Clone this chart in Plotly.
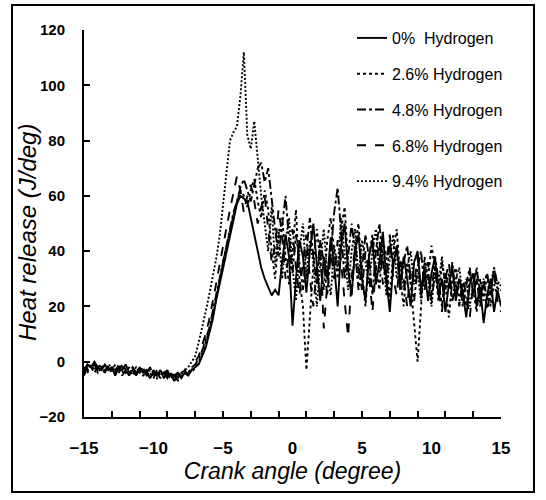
import plotly.graph_objects as go

# Crank-angle sampling grid (degrees), 0.25 deg resolution from -15 to 15
crank_angle = [round(-15 + 0.25 * i, 2) for i in range(121)]

# Heat release (J/deg); each row = one degree (x, x+.25, x+.5, x+.75)
h0 = [
    -4, -1, -2, 0,   -2, -3, -1, -3,   -2, -5, -2, -3,   -1, -4, -3, -5,
    -2, -4, -3, -6,  -4, -5, -3, -6,   -4, -5, -7, -4,   -6, -4, -5, -3,
    -2, -1, 2, 5,    10, 15, 22, 28,   34, 40, 46, 52,   57, 60, 59, 58,
    52, 46, 40, 34,  30, 27, 24, 26,   24, 36, 46, 38,   13, 30, 44, 38,
    25, 40, 50, 35,  22, 38, 30, 45,   35, 20, 42, 50,   33, 24, 40, 46,
    30, 22, 38, 44,  28, 36, 47, 30,   18, 35, 42, 28,   38, 30, 20, 36,
    40, 26, 34, 22,  32, 38, 24, 30,   18, 28, 34, 22,   30, 25, 16, 28,
    32, 20, 27, 14,  24, 30, 18, 26,   20,
]
h26 = [
    -2, -4, -1, -3,  -1, -2, -4, -2,   -3, -1, -4, -2,   -4, -2, -5, -3,
    -4, -2, -5, -4,  -6, -3, -5, -4,   -6, -4, -5, -6,   -4, -5, -3, -4,
    -2, 0, 3, 7,     11, 16, 22, 29,   36, 42, 48, 53,   58, 62, 60, 56,
    62, 66, 58, 52,  62, 55, 40, 30,   45, 52, 38, 28,   40, 55, 30, 20,
    -3, 15, 35, 48,  38, 26, 44, 52,   40, 30, 48, 56,   36, 24, 42, 50,
    32, 20, 38, 46,  34, 26, 44, 38,   22, 40, 48, 30,   20, 36, 28, 14,
    0, 20, 38, 30,   42, 34, 22, 36,   28, 16, 30, 34,   22, 28, 20, 32,
    26, 18, 30, 22,  32, 20, 28, 24,   26,
]
h48 = [
    -3, -1, -2, -4,  -2, -1, -3, -2,   -4, -2, -3, -1,   -3, -5, -2, -4,
    -3, -5, -4, -2,  -5, -4, -6, -3,   -5, -6, -4, -7,   -5, -3, -5, -2,
    -1, 1, 4, 8,     12, 18, 24, 30,   37, 43, 49, 54,   58, 63, 66, 62,
    58, 64, 70, 72,  65, 70, 58, 48,   38, 50, 60, 44,   32, 46, 36, 26,
    40, 52, 38, 28,  44, 36, 24, 40,   54, 63, 48, 30,   38, 50, 40, 26,
    34, 46, 38, 24,  40, 50, 36, 28,   44, 34, 40, 26,   36, 42, 30, 22,
    34, 40, 26, 32,  24, 38, 30, 20,   32, 26, 36, 24,   30, 20, 28, 34,
    24, 30, 20, 28,  32, 24, 34, 28,   30,
]
h68 = [
    -5, -2, -3, -1,  -3, -2, -4, -1,   -3, -4, -2, -5,   -3, -4, -2, -4,
    -5, -3, -4, -6,  -3, -5, -4, -5,   -3, -6, -5, -4,   -6, -5, -4, -3,
    0, 2, 6, 10,     15, 21, 28, 35,   42, 49, 55, 61,   67, 62, 54, 60,
    64, 58, 50, 56,  60, 48, 36, 42,   55, 46, 30, 40,   48, 34, 24, 36,
    46, 30, 20, 34,  42, 12, 28, 40,   30, 44, 36, 22,   9, 30, 42, 34,
    26, 40, 32, 18,  34, 44, 28, 36,   46, 30, 24, 38,   30, 20, 34, 28,
    38, 24, 30, 36,  22, 32, 26, 18,   30, 36, 22, 28,   20, 30, 24, 16,
    28, 34, 22, 30,  18, 26, 32, 22,   18,
]
h94 = [
    -2, -3, -1, -2,  -4, -2, -3, -1,   -2, -3, -1, -4,   -2, -3, -4, -2,
    -4, -3, -5, -3,  -4, -6, -4, -5,   -5, -4, -6, -5,   -4, -3, -2, 0,
    2, 7, 12, 18,    24, 30, 37, 45,   56, 68, 80, 83,   85, 96, 112, 82,
    77, 87, 72, 60,  50, 40, 56, 35,   48, 30, 44, 52,   34, 22, 40, 50,
    30, 44, 36, 20,  36, 48, 32, 24,   42, 34, 52, 38,   26, 40, 48, 30,
    44, 36, 28, 40,  48, 32, 40, 24,   38, 46, 30, 36,   26, 34, 40, 28,
    32, 22, 36, 30,  20, 34, 28, 38,   26, 32, 22, 30,   34, 24, 30, 20,
    28, 34, 24, 30,  22, 28, 34, 26,   28,
]

series = [
    ("0%\u00a0\u00a0Hydrogen", h0, "solid"),
    ("2.6% Hydrogen", h26, "dot"),
    ("4.8% Hydrogen", h48, "dashdot"),
    ("6.8% Hydrogen", h68, "dash"),
    ("9.4% Hydrogen", h94, "2px,2px"),
]

x_ticks = list(range(-15, 16, 2))
x_labels = [-15, -10, -5, 0, 5, 10, 15]
y_ticks = list(range(-20, 121, 20))
y_title = "Heat release (J/deg)"
x_title = "Crank angle (degree)"

FONT = "Liberation Sans, Arial, sans-serif"
W, H = 546, 500
ML, MR, MT, MB = 84, 45, 30, 83
PW, PH = W - ML - MR, H - MT - MB

fig = go.Figure()
for i, (name, vals, dash) in enumerate(series):
    fig.add_trace(go.Scatter(
        x=crank_angle, y=vals, mode="lines", name=name,
        legendgroup=f"g{i}",
        line=dict(color="black", width=1.9, dash=dash),
    ))

# invisible helper trace so the label axis is drawn
fig.add_trace(go.Scatter(x=[0], y=[0], xaxis="x2", mode="markers",
                         marker=dict(opacity=0), showlegend=False, hoverinfo="skip"))

def px_x(p):
    return (p - ML) / PW

def px_y(p):
    return (H - MB - p) / PH

fig.update_layout(
    width=W, height=H,
    margin=dict(l=ML, r=MR, t=MT, b=MB, autoexpand=False),
    paper_bgcolor="white", plot_bgcolor="white",
    font=dict(family=FONT, color="black"),
    showlegend=True,
    legend=dict(
        x=px_x(352), y=px_y(21), xanchor="left", yanchor="top",
        bgcolor="rgba(0,0,0,0)", borderwidth=0,
        font=dict(family=FONT, size=16, color="black"),
        tracegroupgap=12, itemwidth=30,
    ),
    xaxis=dict(
        range=[-15, 15], showgrid=False, zeroline=False, automargin=False,
        showline=True, linecolor="black", linewidth=2,
        tickmode="array", tickvals=x_ticks, ticktext=[""] * len(x_ticks),
        ticks="inside", ticklen=6, tickwidth=2, tickcolor="black",
    ),
    xaxis2=dict(
        range=[-15, 15], overlaying="x", anchor="y", side="bottom",
        showgrid=False, zeroline=False, showline=False, automargin=False,
        tickmode="array", tickvals=x_labels,
        ticks="outside", ticklen=16, tickcolor="rgba(0,0,0,0)",
        tickfont=dict(family=FONT, size=17, color="black", weight="bold"),
        title=dict(text=f"<i>{x_title}</i>",
                   font=dict(family=FONT, size=23, color="black"), standoff=3),
    ),
    yaxis=dict(
        range=[-20, 120], showgrid=False, zeroline=False, automargin=False,
        showline=True, linecolor="black", linewidth=2,
        tickmode="array", tickvals=y_ticks,
        ticks="inside", ticklen=6, tickwidth=2, tickcolor="black",
        ticklabelstandoff=14,
        tickfont=dict(family=FONT, size=15, color="black", weight="bold"),
    ),
    annotations=[dict(
        text=f"<i>{y_title}</i>", textangle=-90, showarrow=False,
        xref="paper", yref="paper", x=px_x(27), y=px_y(233),
        xanchor="center", yanchor="middle",
        font=dict(family=FONT, size=24, color="black"),
    )],
    shapes=[dict(type="rect", xref="paper", yref="paper",
                 x0=px_x(12), x1=px_x(534), y0=px_y(492), y1=px_y(5),
                 line=dict(color="black", width=2), fillcolor="rgba(0,0,0,0)",
                 layer="below")],
)

fig.write_html("out.html")
